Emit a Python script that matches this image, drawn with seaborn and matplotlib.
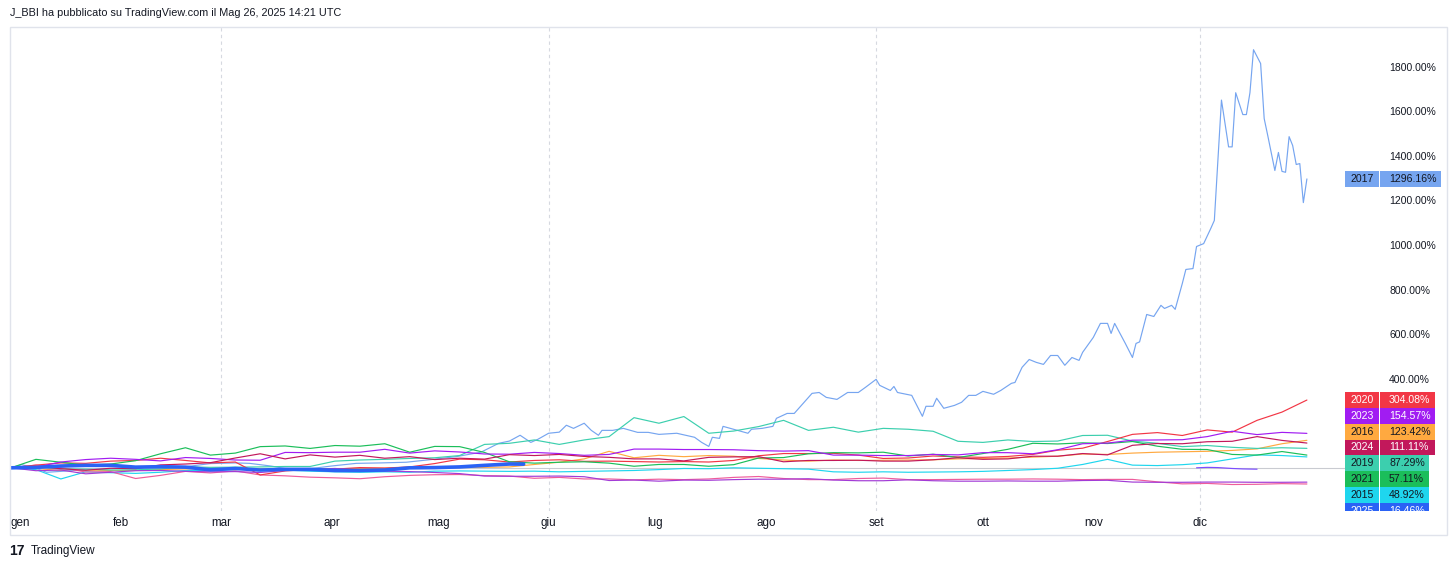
import matplotlib
matplotlib.use("Agg")
import matplotlib.pyplot as plt
from matplotlib.patches import Rectangle
from matplotlib.ticker import StrMethodFormatter
import seaborn as sns

# Bitcoin yearly performance, % change from Jan 1
week_days = list(range(0, 365, 7))

pct_2015 = [0, -8, -50, -18, -22, -25, -20, -12, -12, -8, -5, -10, -15, -18, -20, -18, -20, -15,
            -14, -15, -16, -15, -18, -16, -14, -12, -8, -3, -4, 0, -2, -4, -6, -18, -20, -18, -20,
            -19, -18, -16, -12, -8, -2, 15, 38, 12, 10, 14, 22, 40, 58, 55, 48.92]
pct_2016 = [0, -3, -12, -10, -12, -12, -8, -5, -2, -5, -4, -6, -5, -4, -3, -2, 2, 4, 3, 2, 4, 15,
            25, 40, 74, 45, 56, 50, 55, 52, 42, 35, 30, 35, 33, 34, 35, 36, 40, 42, 44, 48, 52, 62,
            60, 66, 70, 72, 74, 78, 85, 108, 123.42]
pct_2018 = [0, 12, 1, -19, -17, -48, -34, -16, -23, -14, -32, -36, -42, -45, -49, -40, -34, -31,
            -30, -35, -37, -47, -43, -50, -50, -54, -51, -53, -50, -43, -39, -48, -53, -53, -48,
            -46, -53, -53, -52, -51, -51, -50, -51, -53, -52, -52, -63, -72, -70, -75, -74, -71, -72.6]
pct_2019 = [0, 5, -5, -6, -10, -9, -5, 5, 2, 3, 4, 6, 6, 30, 35, 38, 42, 45, 55, 105, 110, 125,
            105, 125, 140, 225, 200, 230, 155, 165, 185, 213, 168, 182, 160, 177, 173, 164, 119,
            114, 125, 118, 120, 145, 146, 120, 110, 95, 100, 92, 87, 90, 87.29]
pct_2020 = [0, 12, 22, 20, 30, 33, 43, 33, 22, 26, -32, -14, -7, -6, 1, -1, 4, 19, 39, 36, 26, 33,
            36, 29, 30, 28, 26, 28, 26, 33, 54, 64, 64, 65, 57, 42, 44, 53, 49, 47, 51, 60, 79, 88,
            118, 150, 158, 145, 170, 160, 213, 250, 304.08]
pct_2021 = [0, 38, 25, 12, 17, 32, 63, 90, 57, 66, 95, 98, 87, 100, 97, 108, 70, 96, 95, 69, 27,
            21, 25, 27, 21, 7, 15, 15, 7, 14, 44, 46, 63, 68, 67, 70, 53, 61, 46, 64, 83, 110, 107,
            112, 109, 118, 97, 83, 82, 60, 57, 73, 57.11]
pct_2022 = [0, -13, -10, -27, -20, -13, -12, -16, -18, -17, -21, -12, -7, -3, -10, -15, -17, -21,
            -26, -37, -38, -38, -37, -40, -57, -55, -60, -55, -56, -53, -51, -51, -49, -55, -58,
            -58, -54, -58, -60, -60, -59, -60, -60, -57, -56, -64, -65, -65, -64, -64, -65, -65, -64.27]
pct_2023 = [0, 3, 26, 37, 43, 38, 31, 46, 42, 35, 34, 69, 68, 70, 70, 83, 66, 76, 71, 62, 61, 69,
            64, 56, 60, 84, 84, 82, 82, 81, 77, 75, 77, 57, 57, 55, 55, 60, 58, 68, 68, 63, 81, 108,
            111, 124, 125, 126, 140, 164, 149, 159, 154.57]
pct_2024 = [0, 6, -4, -11, -2, -4, 13, 17, 23, 44, 63, 40, 58, 48, 56, 43, 50, 37, 43, 39, 59, 55,
            60, 51, 47, 40, 40, 31, 47, 49, 50, 27, 33, 33, 34, 30, 30, 36, 45, 38, 40, 52, 52, 64,
            58, 101, 109, 108, 117, 119, 140, 123, 111.11]

days_2025 = [0, 7, 14, 21, 28, 35, 42, 49, 56, 63, 70, 77, 84, 91, 98, 105, 112, 119, 126, 133, 140, 144]
pct_2025 = [0, 2, 8, 11, 11, 3, 5, 3, -9, -3, -10, -7, -7, -12, -12, -10, 0, 1, 4, 11, 17, 16.46]

days_2014 = [333, 336, 339, 343, 346, 350]
pct_2014 = [0, 2, 1, -3, -5, -6.2]

days_2017 = [0, 3, 7, 10, 14, 21, 28, 35, 42, 49, 56, 63, 67, 73, 77, 83, 90, 97, 104, 111,
             118, 125, 132, 137, 140, 143, 146, 148, 151, 154, 156, 158, 161, 163, 165, 166, 169, 172, 176, 179,
             182, 187, 192, 194, 196, 197, 199, 200, 202, 204, 207, 208, 211, 214, 215, 218, 220, 225, 227, 229,
             232, 235, 238, 240, 243, 244, 247, 248, 249, 253, 256, 257, 259, 260, 262, 265, 267, 269, 271, 273,
             276, 278, 281, 282, 284, 286, 288, 290, 292, 294, 296, 298, 300, 301, 304, 306, 308, 309, 310, 313,
             315, 316, 317, 319, 321, 323, 324, 326, 327, 329, 330, 332, 333, 335, 337, 338, 340, 342, 343, 344,
             346, 347, 348, 349, 351, 352, 353, 355, 356, 357, 358, 359, 360, 361, 362, 363, 364]
pct_2017 = [0, 14, -2, -20, -16, -8, -4, 2, 0, 5, 19, 22, 20, 8, -3, -6, 8, 20, 22, 25,
            37, 50, 70, 110, 120, 146, 114, 128, 155, 160, 191, 177, 200, 168, 146, 168, 168, 177, 159, 159,
            150, 155, 137, 114, 96, 137, 132, 186, 177, 168, 155, 173, 177, 186, 222, 244, 244, 334, 338, 316,
            307, 338, 338, 361, 397, 370, 347, 365, 338, 325, 231, 276, 276, 312, 267, 280, 294, 325, 325, 343,
            330, 347, 379, 383, 451, 486, 473, 464, 504, 504, 460, 495, 482, 518, 585, 648, 648, 603, 648, 558,
            495, 558, 565, 688, 679, 729, 715, 729, 711, 827, 890, 894, 993, 1006, 1074, 1110, 1650, 1440, 1440, 1683,
            1585, 1585, 1683, 1876, 1814, 1567, 1491, 1334, 1415, 1330, 1326, 1486, 1446, 1361, 1365, 1190, 1296.16]

month_days = [0, 31, 59, 90, 120, 151, 181, 212, 243, 273, 304, 334]
month_labels = ["gen", "feb", "mar", "apr", "mag", "giu", "lug", "ago", "set", "ott", "nov", "dic"]
quarter_days = [59, 151, 243, 334]
price_ticks = [400, 600, 800, 1000, 1200, 1400, 1600, 1800]

series = {
    2014: (days_2014, pct_2014),
    2015: (week_days, pct_2015),
    2016: (week_days, pct_2016),
    2017: (days_2017, pct_2017),
    2018: (week_days, pct_2018),
    2019: (week_days, pct_2019),
    2020: (week_days, pct_2020),
    2021: (week_days, pct_2021),
    2022: (week_days, pct_2022),
    2023: (week_days, pct_2023),
    2024: (week_days, pct_2024),
    2025: (days_2025, pct_2025),
}

colors = {2014: "#7C4DFF", 2015: "#1FD6EE", 2016: "#FFA940", 2017: "#76A5F0", 2018: "#EE5C9B",
          2019: "#3CCFAE", 2020: "#F23645", 2021: "#1BBE5A", 2022: "#A23BD6", 2023: "#A11CF2",
          2024: "#C2185B", 2025: "#2A62F5"}
dark_text = {2015, 2016, 2017, 2019, 2021}

sns.set_style("white")
plt.rcParams['font.family'] = ['Liberation Sans', 'DejaVu Sans']
TEXT = "#131722"

W, H = 1456, 568
fig = plt.figure(figsize=(W / 100, H / 100), dpi=100)


def px_axes(left, top, right, bottom):
    return fig.add_axes([left / W, 1 - bottom / H, (right - left) / W, (bottom - top) / H])


# pixel -> data mapping taken from the reference grid / price scale
PANE_TOP, PANE_BOT = 27, 511
Y_TOP, Y_BOT = 1977.9, -193.8
X_LEFT, X_RIGHT = -0.28, 374.7

ax = px_axes(10, PANE_TOP, 1345, PANE_BOT)
ax.axhline(0, color="#C9CBD1", lw=0.8, zorder=1)
for year, (d, v) in series.items():
    lw = 2.6 if year == 2025 else 0.85
    sns.lineplot(x=d, y=v, ax=ax, color=colors[year], linewidth=lw, legend=False, zorder=3)

ax.set_xlim(X_LEFT, X_RIGHT)
ax.set_ylim(Y_BOT, Y_TOP)
ax.set_xlabel("")
ax.set_ylabel("")
ax.set_yticks([])
ax.set_xticks(month_days)
ax.set_xticklabels(month_labels)
ax.tick_params(axis="x", which="major", length=0, pad=4, labelsize=8.4, labelcolor=TEXT)
ax.xaxis.get_ticklabels()[0].set_horizontalalignment("left")
# quarterly dashed separators
for qd in quarter_days:
    ax.axvline(qd, color="#D6D9E0", linestyle=(0, (3, 3)), linewidth=0.8, zorder=0)
ax.grid(False)
ax.set_facecolor("none")
for s in ax.spines.values():
    s.set_visible(False)

# price scale with stacked year labels
scale = px_axes(1345, PANE_TOP, 1447, PANE_BOT)
scale.set_xlim(0, 102)
scale.set_ylim(Y_BOT, Y_TOP)
scale.set_xticks([])
scale.set_yticks(price_ticks)
scale.yaxis.set_major_formatter(StrMethodFormatter("{x:.2f}%"))
scale.tick_params(axis="y", length=0, pad=-44 * 0.72, labelsize=7.5, labelcolor=TEXT)
for lbl in scale.get_yticklabels():
    lbl.set_horizontalalignment("left")
scale.set_facecolor("none")
for s in scale.spines.values():
    s.set_visible(False)

per_px = (Y_TOP - Y_BOT) / (PANE_BOT - PANE_TOP)
box_h = 15.8 * per_px


def draw_label(year, center):
    txt = f"{series[year][1][-1]:.2f}%"
    right = 44 + 5.7 * len(txt) + 6
    c = colors[year]
    tc = TEXT if year in dark_text else "white"
    scale.add_patch(Rectangle((0, center - box_h / 2), 33.5, box_h, color=c, lw=0, zorder=4))
    scale.add_patch(Rectangle((34.5, center - box_h / 2), right - 34.5, box_h, color=c, lw=0, zorder=4))
    scale.text(17, center, str(year), ha="center", va="center", fontsize=7.6, color=tc,
               zorder=5, clip_on=True)
    scale.text(44, center, txt, ha="left", va="center", fontsize=7.6, color=tc,
               zorder=5, clip_on=True)


draw_label(2017, series[2017][1][-1])
stack = sorted((y for y in series if y != 2017), key=lambda y: series[y][1][-1], reverse=True)
center = series[stack[0]][1][-1]
for year in stack:
    draw_label(year, center)
    center -= box_h

# frame, header and footer
fig.patches.append(Rectangle((10 / W, 1 - 535 / H), (1447 - 10) / W, (535 - 27) / H,
                             transform=fig.transFigure, fill=False, edgecolor="#E0E3EB", lw=1))
fig.text(10 / W, 1 - 13 / H, "J_BBI ha pubblicato su TradingView.com il Mag 26, 2025 14:21 UTC",
         ha="left", va="center", fontsize=7.8, color=TEXT)
fig.text(9 / W, 1 - 551 / H, "17", ha="left", va="center", fontsize=10, fontweight="heavy", color=TEXT)
fig.text(31 / W, 1 - 551 / H, "TradingView", ha="left", va="center", fontsize=8.5, color=TEXT)

fig.savefig("out.png", dpi=100)
